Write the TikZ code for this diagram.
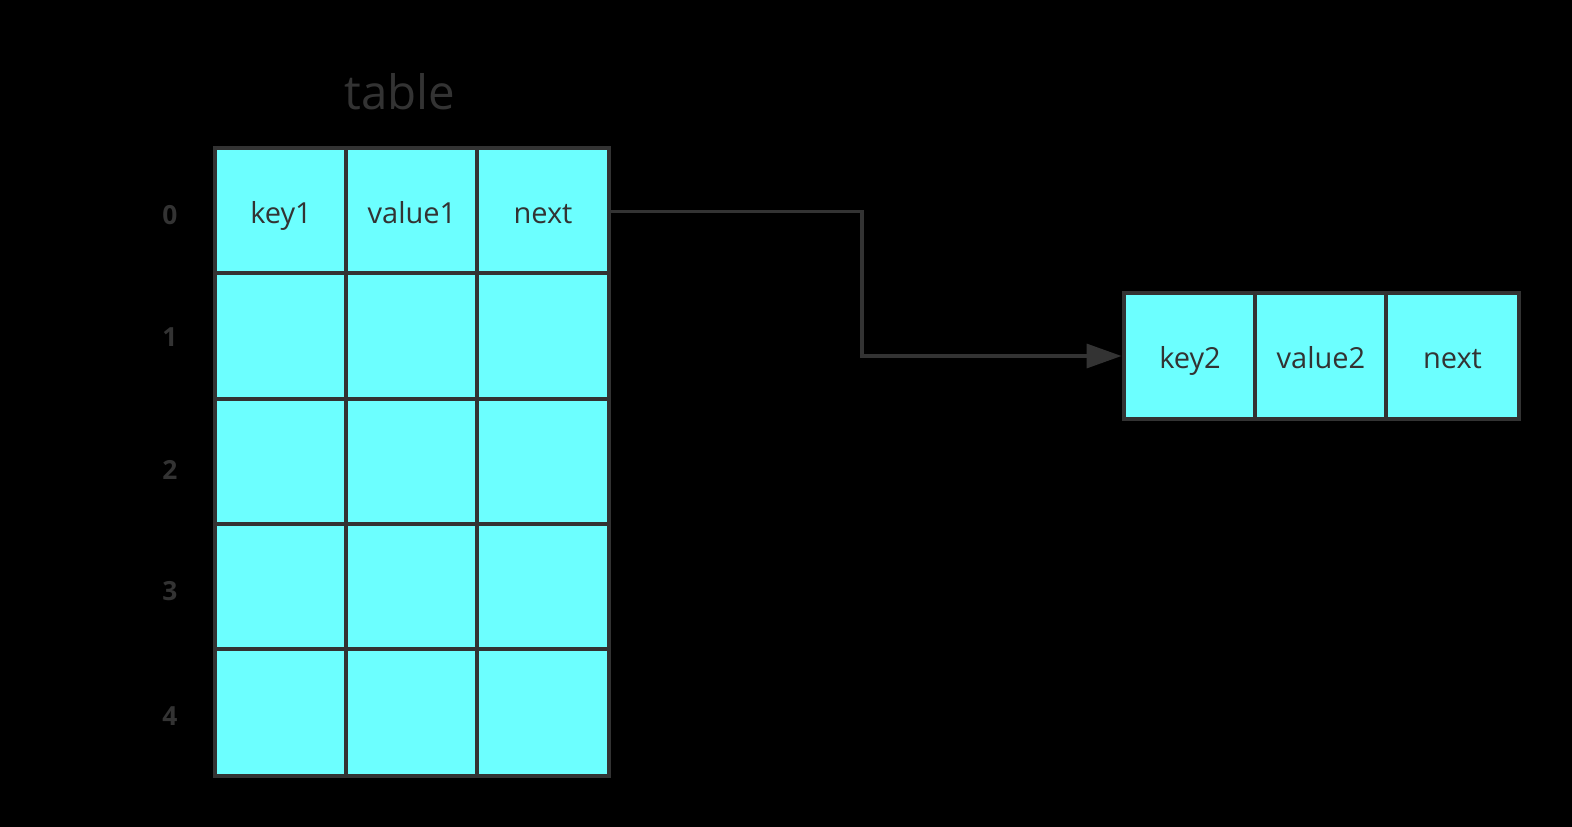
\documentclass[tikz,border=0pt]{standalone}
\usepackage{fontspec}
\setmainfont{Open Sans}
\usepackage{xcolor}
\usetikzlibrary{arrows.meta, positioning}
\definecolor{cellcyan}{HTML}{6CFFFF}
\definecolor{inkgray}{HTML}{333333}

\begin{document}
\begin{tikzpicture}[x=0.02cm, y=-0.02cm,
  cell/.style={rectangle, draw=inkgray, fill=cellcyan, line width=0.08cm,
               minimum width=2.66cm, minimum height=2.54cm, inner sep=0pt,
               text height=2.6ex, text depth=0ex,
               text=inkgray, font=\fontsize{16.5}{18}\selectfont},
  idx/.style={text=inkgray, font=\bfseries\fontsize{15}{17}\selectfont},
  link/.style={-{Triangle[length=0.7cm, width=0.48cm]}, draw=inkgray,
               line width=0.07cm}
]
\fill[black] (0,0) rectangle (1572,827);
\useasboundingbox (0,0) rectangle (1572,827);

\node[text=inkgray, font=\fontsize{27}{30}\selectfont] (title) at (400,92) {table};

% table
\node[cell] (c00) at (281,211.6) {key1};
\node[cell] (c01) at (412,211.6) {value1};
\node[cell] (c02) at (543,211.6) {next};
\foreach \r in {1,...,4}
  \foreach \c in {0,1,2}
    \node[cell] (c\r\c) at ({215.5+131*(\c+0.5)}, {149+125.2*(\r+0.5)}) {};

\node[idx] (i0) at (170,215) {0};
\node[idx] (i1) at (170,337) {1};
\node[idx] (i2) at (170,470) {2};
\node[idx] (i3) at (170,591) {3};
\node[idx] (i4) at (170,716) {4};

% chained entry
\node[cell] (k2)    at (1190,356) {key2};
\node[cell] (v2)    at (1321,356) {value2};
\node[cell] (next2) at (1452.5,356) {next};

\coordinate (bend) at (862,211);
\draw[link] (c02.east) -- (c02.east -| bend) |- (k2.west);
\end{tikzpicture}
\end{document}
